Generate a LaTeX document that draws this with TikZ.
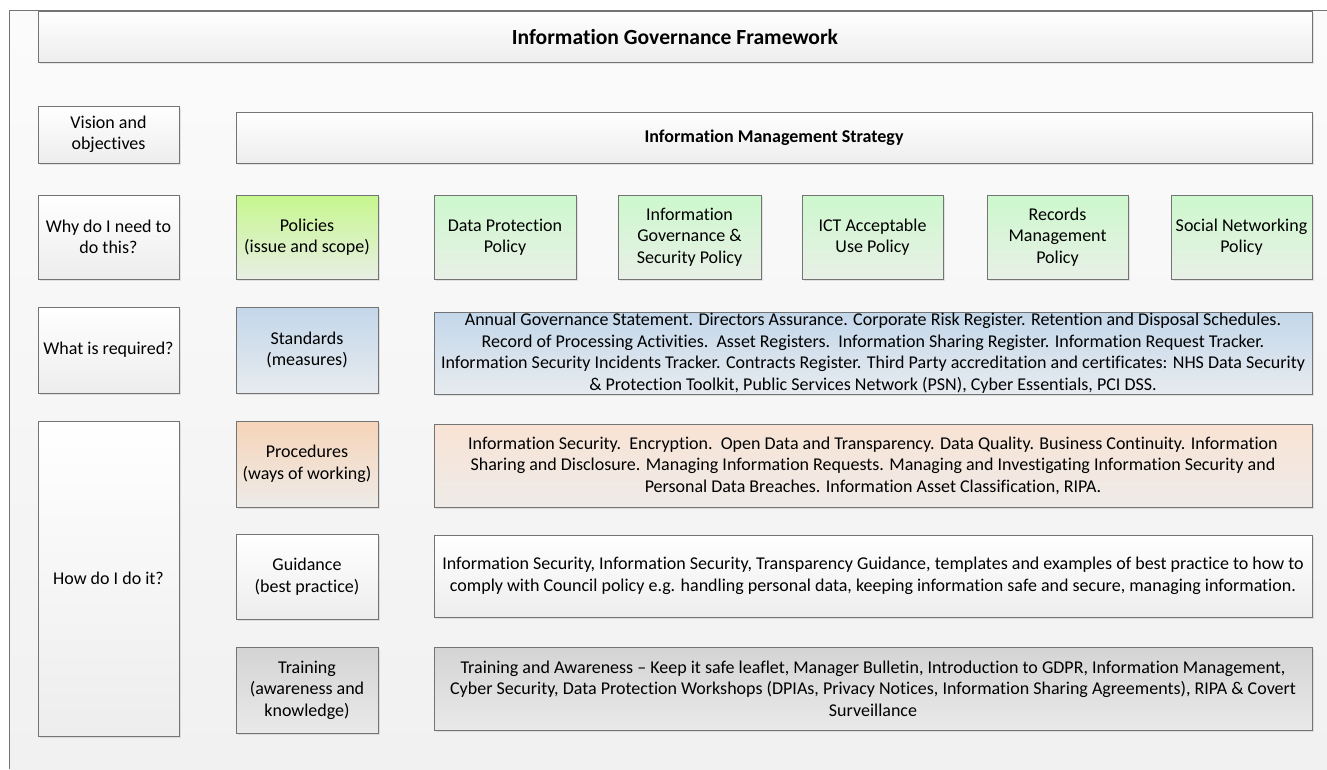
\documentclass[tikz,border=0pt]{standalone}
\usepackage{fontspec}
\setmainfont{Carlito}[Ligatures=NoCommon]
\usetikzlibrary{shadows}

\definecolor{framebg}{HTML}{FBFBFB}
\definecolor{framebot}{HTML}{F1F1F1}
\definecolor{edge}{HTML}{747474}
\definecolor{limetop}{HTML}{C6F78E}
\definecolor{limebot}{HTML}{E8EEE4}
\definecolor{minttop}{HTML}{CDF8CD}
\definecolor{mintbot}{HTML}{E8F0E6}
\definecolor{bluetop}{HTML}{C3D7EA}
\definecolor{bluebot}{HTML}{E7EBEF}
\definecolor{peachtop}{HTML}{F6D4B8}
\definecolor{peachbot}{HTML}{EEEBE8}
\definecolor{palepeach}{HTML}{F8E3D4}
\definecolor{greytop}{HTML}{D4D4D4}
\definecolor{greybot}{HTML}{E9E9E9}
\definecolor{whitebot}{HTML}{EDEDED}

\tikzset{
  panel/.style={draw=edge, line width=0.65pt, inner sep=0pt, align=center,
    font=\fontsize{13.5}{16.1}\selectfont,
    drop shadow={shadow xshift=1.6pt, shadow yshift=-1.6pt, fill=black, opacity=0.09}},
  plain/.style={panel, top color=white, bottom color=whitebot},
  lime/.style={panel, top color=limetop, bottom color=limebot},
  mint/.style={panel, top color=minttop, bottom color=mintbot},
  blue/.style={panel, top color=bluetop, bottom color=bluebot},
  peach/.style={panel, top color=peachtop, bottom color=peachbot},
  palepeachbox/.style={panel, top color=palepeach, bottom color=peachbot},
  grey/.style={panel, top color=greytop, bottom color=greybot},
  titlefont/.style={font=\fontsize{16.2}{19}\selectfont\bfseries},
}

% box from pixel corners (x1,y1)-(x2,y2)
\newcommand\pxbox[7]{%
  \node[#6, minimum width={(#4-#2)*0.75pt}, minimum height={(#5-#3)*0.75pt}]
    (#1) at ({(#2+#4)/2},{(#3+#5)/2}) {#7};}

\begin{document}
\begin{tikzpicture}[x=0.75pt, y=-0.75pt]
\useasboundingbox (0,0) rectangle (1327,769);
\fill[white] (0,0) rectangle (1327,769);

% outer frame: open on the right and bottom, where it runs off the page
\shade[top color=framebg, bottom color=framebot] (9.5,10.5) rectangle (1327,769);
\draw[draw=edge, line width=0.65pt] (1327,10.5) -- (9.5,10.5) -- (9.5,769);

% headers
\pxbox{igf}{38}{11}{1312}{62}{plain, titlefont}{Information Governance Framework}
\pxbox{vision}{38}{106}{179}{163}{plain}{Vision and\\objectives}
\pxbox{ims}{236}{112}{1312}{163}{plain}{\textbf{Information Management Strategy}}

% policies row
\pxbox{why}{38}{195}{179}{279}{plain}{Why do I need to\\do this?}
\pxbox{policies}{236}{195}{378}{279}{lime}{Policies\\(issue and scope)}
\pxbox{dpp}{434}{195}{576}{279}{mint}{Data Protection\\Policy}
\pxbox{igsp}{618}{195}{761}{279}{mint}{Information\\Governance \&\\Security Policy}
\pxbox{ict}{802}{195}{943}{279}{mint}{ICT Acceptable\\Use Policy}
\pxbox{rmp}{987}{195}{1128}{279}{mint}{Records\\Management\\Policy}
\pxbox{snp}{1171}{195}{1312}{279}{mint}{Social Networking\\Policy}

% standards row
\pxbox{what}{38}{307}{179}{393}{plain}{What is required?}
\pxbox{standards}{236}{307}{378}{393}{blue}{Standards\\(measures)}
\pxbox{stdtext}{434}{312}{1312}{394}{blue}{Annual Governance Statement. Directors Assurance. Corporate Risk Register. Retention and Disposal Schedules.\\
Record of Processing Activities.\ \ Asset Registers.\ \ Information Sharing Register. Information Request Tracker.\\
Information Security Incidents Tracker. Contracts Register. Third Party accreditation and certificates: NHS Data Security\\
\& Protection Toolkit, Public Services Network (PSN), Cyber Essentials, PCI DSS.}

% how row
\pxbox{how}{38}{421}{179}{736}{plain}{How do I do it?}
\pxbox{procedures}{236}{421}{378}{507}{peach}{Procedures\\(ways of working)}
\pxbox{proctext}{434}{424}{1312}{507}{palepeachbox}{Information Security.\ \ Encryption.\ \ Open Data and Transparency. Data Quality. Business Continuity. Information\\
Sharing and Disclosure. Managing Information Requests. Managing and Investigating Information Security and\\
Personal Data Breaches. Information Asset Classification, RIPA.}
\pxbox{guidance}{236}{534}{378}{619}{plain}{Guidance\\(best practice)}
\pxbox{guidtext}{434}{535}{1312}{617}{plain}{Information Security, Information Security, Transparency Guidance, templates and examples of best practice to how to\\
comply with Council policy e.g. handling personal data, keeping information safe and secure, managing information.}
\pxbox{training}{236}{647}{378}{733}{grey}{Training\\(awareness and\\knowledge)}
\pxbox{traintext}{434}{647}{1312}{730}{grey}{Training and Awareness -- Keep it safe leaflet, Manager Bulletin, Introduction to GDPR, Information Management,\\
Cyber Security, Data Protection Workshops (DPIAs, Privacy Notices, Information Sharing Agreements), RIPA \& Covert\\
Surveillance}
\end{tikzpicture}
\end{document}
